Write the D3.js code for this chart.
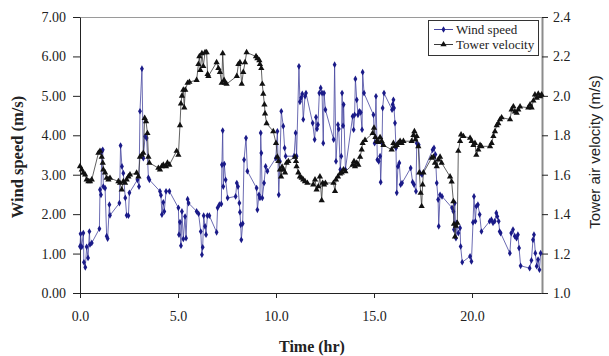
<!DOCTYPE html>
<html>
<head>
<meta charset="utf-8">
<script src="https://cdn.jsdelivr.net/npm/d3@7"></script>
<style>
  html, body { margin: 0; padding: 0; background: #fff; }
  svg { display: block; }
</style>
</head>
<body>
<script>
// ---- data ----
const windTime = [0.00,0.03,0.09,0.17,0.20,0.27,0.34,0.41,0.48,0.51,0.60,0.99,1.02,1.07,1.11,1.16,1.19,1.28,1.36,1.41,1.50,1.53,2.01,2.07,2.14,2.21,2.31,2.38,2.47,2.52,2.93,3.01,3.06,3.16,3.23,3.32,3.40,3.49,3.54,4.08,4.13,4.18,4.25,4.30,4.39,4.56,5.02,5.05,5.10,5.15,5.20,5.27,5.36,5.41,5.49,5.54,5.95,6.05,6.16,6.22,6.26,6.31,6.38,6.43,6.50,6.60,6.97,7.02,7.11,7.21,7.24,7.28,7.31,7.36,7.43,7.53,7.94,8.00,8.06,8.13,8.16,8.20,8.23,8.30,8.37,8.47,8.54,9.01,9.05,9.13,9.18,9.22,9.25,9.30,9.39,9.47,9.56,9.99,10.07,10.14,10.20,10.27,10.37,10.44,10.49,10.92,11.00,11.05,11.17,11.22,11.28,11.34,11.39,11.48,11.53,11.87,11.97,12.04,12.09,12.14,12.21,12.28,12.35,12.41,12.45,12.52,12.94,12.99,13.06,13.16,13.20,13.28,13.33,13.37,13.42,13.45,13.54,13.91,13.96,14.01,14.05,14.12,14.18,14.25,14.32,14.39,14.42,14.49,14.97,15.03,15.10,15.17,15.24,15.31,15.34,15.41,15.44,15.51,15.92,15.95,15.99,16.02,16.07,16.12,16.16,16.22,16.29,16.36,16.43,16.87,16.97,17.04,17.14,17.18,17.28,17.35,17.45,17.99,18.06,18.13,18.20,18.27,18.30,18.37,18.47,18.98,19.05,19.08,19.12,19.18,19.22,19.30,19.39,19.42,19.50,19.90,19.97,20.05,20.10,20.17,20.22,20.30,20.39,20.48,20.90,20.99,21.07,21.16,21.24,21.29,21.36,21.41,21.46,21.93,22.00,22.09,22.18,22.27,22.34,22.40,22.48,22.94,23.03,23.11,23.16,23.23,23.30,23.37,23.44,23.50];
const windSpeed = [1.18,1.50,1.17,1.52,0.78,0.65,1.17,0.89,1.56,1.23,1.27,1.63,2.62,2.49,3.59,3.63,2.70,2.66,1.44,1.38,2.24,1.97,2.28,3.74,3.21,3.04,2.41,1.97,1.96,2.54,2.87,2.70,4.61,5.69,3.42,3.97,3.93,2.92,2.87,2.58,2.48,1.99,2.30,2.07,2.58,2.58,2.16,1.48,1.80,1.20,2.07,1.37,1.94,1.39,2.38,2.28,2.07,2.01,1.56,0.97,1.16,1.96,1.69,1.48,1.96,1.96,1.54,2.16,2.24,2.26,3.25,4.12,2.70,3.27,2.87,2.41,2.45,2.79,2.70,2.28,2.05,1.73,1.35,1.76,3.38,3.93,3.09,2.66,2.11,2.49,2.41,4.06,3.55,2.41,2.79,3.21,3.09,3.42,4.10,2.49,3.34,4.61,4.23,3.68,3.47,3.47,4.06,3.47,5.75,4.85,4.95,5.05,4.40,4.99,5.07,4.31,3.89,4.46,4.16,4.27,5.07,5.20,5.07,3.80,5.07,4.65,3.89,5.79,3.34,4.27,4.16,3.13,3.47,5.07,4.24,4.78,3.13,4.48,4.14,4.52,5.43,4.90,4.52,4.61,4.58,4.14,5.60,5.07,4.52,3.80,4.99,3.38,3.34,3.47,2.81,3.80,4.69,5.07,4.65,4.78,4.90,4.69,4.31,3.68,2.54,3.21,3.30,2.75,2.79,3.17,2.81,2.75,2.58,3.80,3.76,3.04,3.00,3.63,3.68,3.51,2.79,2.37,1.69,2.49,2.45,2.16,2.07,1.61,2.28,1.39,1.78,1.52,1.65,1.18,0.78,0.93,0.80,1.79,2.45,1.82,2.20,2.24,1.99,1.56,1.82,1.86,1.78,1.82,2.03,1.94,1.82,1.56,1.52,1.01,1.52,1.61,1.44,1.39,1.48,1.14,0.69,0.63,0.83,1.35,1.48,1.01,0.68,0.85,0.59,1.01];
const towerTime = [0.00,0.09,0.17,0.26,0.34,0.43,0.51,0.60,0.94,1.02,1.11,1.16,1.19,1.28,1.36,1.45,1.53,1.96,2.04,2.13,2.21,2.30,2.38,2.47,2.55,2.89,2.98,3.06,3.15,3.23,3.30,3.37,3.44,3.49,3.54,4.00,4.08,4.17,4.25,4.39,4.46,4.56,4.93,5.02,5.10,5.15,5.20,5.27,5.32,5.37,5.49,5.58,5.95,6.04,6.09,6.14,6.22,6.29,6.38,6.46,6.51,6.55,6.97,7.06,7.14,7.23,7.28,7.35,7.40,7.48,8.00,8.08,8.16,8.25,8.33,8.42,8.50,8.98,9.05,9.15,9.18,9.25,9.30,9.35,9.41,9.44,9.52,9.86,10.00,10.07,10.12,10.20,10.26,10.31,10.37,10.46,10.54,10.63,10.97,11.02,11.05,11.14,11.22,11.31,11.39,11.48,11.60,11.90,11.99,12.07,12.16,12.24,12.33,12.38,12.45,12.52,12.93,13.01,13.06,13.16,13.27,13.35,13.44,13.54,13.91,13.98,14.03,14.12,14.20,14.29,14.37,14.42,14.54,14.93,15.00,15.07,15.14,15.22,15.31,15.39,15.48,15.90,15.99,16.07,16.16,16.24,16.33,16.41,16.50,16.92,17.01,17.06,17.11,17.18,17.26,17.31,17.38,17.43,17.48,17.52,17.94,18.03,18.11,18.20,18.28,18.37,18.45,18.88,18.96,19.05,19.08,19.13,19.18,19.25,19.30,19.39,19.44,19.56,19.90,19.98,20.07,20.15,20.22,20.32,20.41,20.48,20.92,21.00,21.09,21.17,21.26,21.34,21.43,21.51,21.94,22.02,22.11,22.19,22.28,22.36,22.45,22.87,22.96,23.04,23.13,23.21,23.30,23.38,23.47,23.55];
const towerVelocity = [1.642,1.626,1.609,1.600,1.575,1.566,1.566,1.575,1.710,1.720,1.690,1.660,1.626,1.610,1.583,1.575,1.583,1.566,1.558,1.524,1.566,1.558,1.575,1.590,1.600,1.609,1.590,1.690,1.700,1.710,1.887,1.870,1.810,1.690,1.660,1.634,1.626,1.642,1.650,1.642,1.660,1.650,1.720,1.700,1.850,1.960,2.000,2.030,1.940,2.030,2.065,2.070,2.080,2.160,2.200,2.130,2.215,2.150,2.220,2.220,2.110,2.100,2.170,2.140,2.120,2.065,2.215,2.080,2.065,2.060,2.100,2.160,2.170,2.060,2.120,2.170,2.220,2.200,2.190,2.180,2.160,2.140,2.060,2.010,1.955,1.910,1.860,1.820,1.760,1.690,1.668,1.626,1.590,1.640,1.626,1.610,1.660,1.668,1.690,1.668,1.642,1.610,1.590,1.583,1.575,1.566,1.558,1.550,1.575,1.524,1.540,1.590,1.470,1.558,1.550,1.558,1.558,1.516,1.575,1.590,1.605,1.610,1.626,1.617,1.650,1.668,1.642,1.660,1.650,1.690,1.727,1.760,1.775,1.810,1.837,1.790,1.770,1.765,1.790,1.770,1.750,1.727,1.760,1.744,1.750,1.760,1.770,1.760,1.770,1.770,1.800,1.820,1.778,1.795,1.744,1.610,1.507,1.440,1.550,1.610,1.685,1.690,1.660,1.642,1.676,1.690,1.660,1.590,1.565,1.465,1.350,1.285,1.340,1.355,1.720,1.770,1.803,1.795,1.786,1.770,1.750,1.760,1.700,1.727,1.750,1.744,1.744,1.760,1.795,1.820,1.850,1.860,1.880,1.890,1.880,1.930,1.946,1.920,1.913,1.930,1.945,1.940,1.955,1.940,1.975,2.006,1.990,2.010,1.997,2.006];
const xTicks = [0, 5, 10, 15, 20];
const leftTicks = [0, 1, 2, 3, 4, 5, 6, 7];
const rightTicks = [1.0, 1.2, 1.4, 1.6, 1.8, 2.0, 2.2, 2.4];
const seriesNames = ["Wind speed", "Tower velocity"];
const axisTitles = { x: "Time (hr)", left: "Wind speed (m/s)", right: "Tower air velocity (m/s)" };

// ---- layout ----
const W = 609, H = 356;
const L = 80, R = 542, T = 17, B = 293;
const serif = "'Liberation Serif', 'Times New Roman', serif";
const sans = "'Liberation Sans', Arial, sans-serif";
const windColor = "#1a1a88";
const windLine = "#4646a0";

const svg = d3.select("body").append("svg").attr("width", W).attr("height", H);

const x = d3.scaleLinear().domain([0, 23.57]).range([L, R]);
const yL = d3.scaleLinear().domain([0, 7]).range([B, T]);
const yR = d3.scaleLinear().domain([1.0, 2.4]).range([B, T]);

// frame (top in gray)
svg.append("line").attr("x1", L).attr("x2", R).attr("y1", T + 0.5).attr("y2", T + 0.5)
  .attr("stroke", "#9a9a9a").attr("stroke-width", 1.2);

function styleAxis(g, fs) {
  g.selectAll("text").attr("font-family", serif).attr("font-size", fs).attr("fill", "#222");
  g.selectAll("line").attr("stroke", "#222");
}
const gx = svg.append("g").attr("transform", `translate(0,${B})`)
  .call(d3.axisBottom(x).tickValues(xTicks).tickFormat(d3.format(".1f")).tickSize(5).tickPadding(13).tickSizeOuter(0));
gx.select(".domain").attr("stroke", "#222");
styleAxis(gx, 14);

const gl = svg.append("g").attr("transform", `translate(${L},0)`)
  .call(d3.axisLeft(yL).tickValues(leftTicks).tickFormat(d3.format(".2f")).tickSize(7).tickPadding(7).tickSizeOuter(0));
gl.select(".domain").attr("stroke", "#222");
styleAxis(gl, 14);

const gr = svg.append("g").attr("transform", `translate(${R},0)`)
  .call(d3.axisRight(yR).tickValues(rightTicks).tickFormat(d3.format(".1f")).tickSize(6).tickPadding(5).tickSizeOuter(0));
gr.select(".domain").attr("stroke", "#8c8c8c").attr("stroke-width", 2);
styleAxis(gr, 14);

// axis titles
svg.append("text").attr("x", (L + R) / 2 + 1).attr("y", 352).attr("text-anchor", "middle")
  .attr("font-family", serif).attr("font-weight", "bold").attr("font-size", 16).attr("fill", "#222")
  .text(axisTitles.x);
svg.append("text").attr("transform", "translate(23,157) rotate(-90)").attr("text-anchor", "middle")
  .attr("font-family", serif).attr("font-weight", "bold").attr("font-size", 16.5).attr("fill", "#222")
  .text(axisTitles.left);
svg.append("text").attr("transform", "translate(600,152) rotate(-90)").attr("text-anchor", "middle")
  .attr("font-family", sans).attr("font-size", 15).attr("fill", "#222")
  .text(axisTitles.right);

// series
const windData = windTime.map((t, i) => [t, windSpeed[i]]);
const towerData = towerTime.map((t, i) => [t, towerVelocity[i]]);

const diamond = d3.symbol().type(d3.symbolDiamond).size(13);
const tri = d3.symbol().type(d3.symbolTriangle).size(17);

svg.append("path").datum(windData)
  .attr("d", d3.line().x(d => x(d[0])).y(d => yL(d[1])))
  .attr("fill", "none").attr("stroke", windLine).attr("stroke-width", 0.8);
svg.append("g").selectAll("path").data(windData).join("path")
  .attr("transform", d => `translate(${x(d[0])},${yL(d[1])})`)
  .attr("d", diamond).attr("fill", windColor);

svg.append("path").datum(towerData)
  .attr("d", d3.line().x(d => x(d[0])).y(d => yR(d[1])))
  .attr("fill", "none").attr("stroke", "#3a3a3a").attr("stroke-width", 0.8);
svg.append("g").selectAll("path").data(towerData).join("path")
  .attr("transform", d => `translate(${x(d[0])},${yR(d[1])})`)
  .attr("d", tri).attr("fill", "#111");

// legend
const lg = svg.append("g");
lg.append("rect").attr("x", 428.5).attr("y", 20.5).attr("width", 110).attr("height", 35)
  .attr("fill", "#fff").attr("stroke", "#333").attr("stroke-width", 1);
const items = [
  { name: seriesNames[0], color: windLine, mcolor: windColor, sym: diamond, y: 29.5 },
  { name: seriesNames[1], color: "#3a3a3a", mcolor: "#111", sym: tri, y: 44.5 }
];
items.forEach(it => {
  lg.append("line").attr("x1", 434).attr("x2", 453).attr("y1", it.y).attr("y2", it.y)
    .attr("stroke", it.color).attr("stroke-width", 1);
  lg.append("path").attr("transform", `translate(443.5,${it.y})`).attr("d", it.sym).attr("fill", it.mcolor);
  lg.append("text").attr("x", 456).attr("y", it.y + 4.5)
    .attr("font-family", serif).attr("font-size", 13).attr("fill", "#222").text(it.name);
});
</script>
</body>
</html>
